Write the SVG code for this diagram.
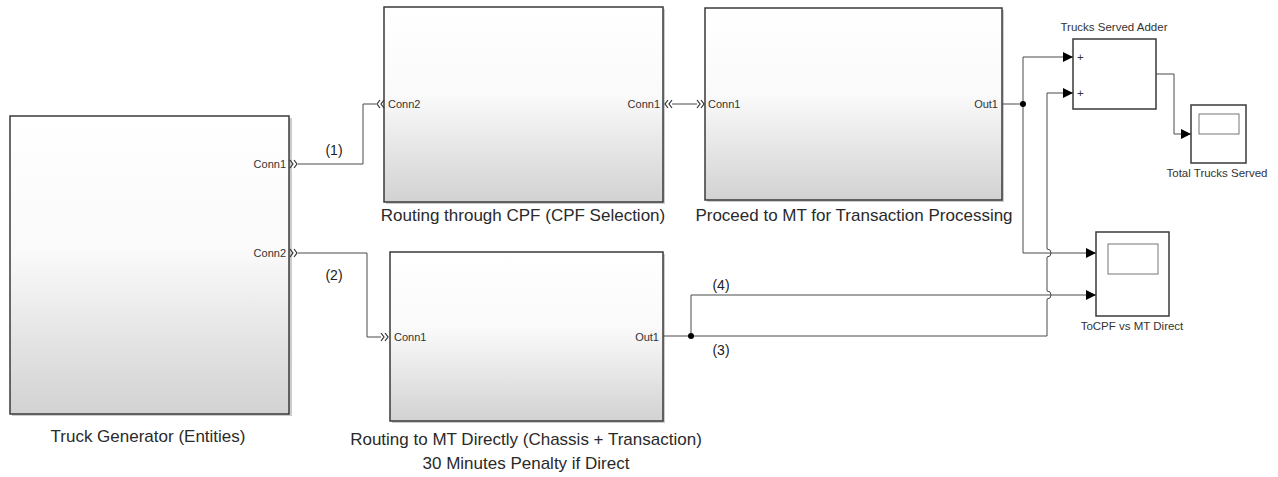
<svg xmlns="http://www.w3.org/2000/svg" width="1278" height="477" viewBox="0 0 1278 477">
<defs>
<linearGradient id="g" x1="0" y1="0" x2="0" y2="1">
<stop offset="0" stop-color="#ffffff"/>
<stop offset="0.45" stop-color="#fafafa"/>
<stop offset="1" stop-color="#d2d2d2"/>
</linearGradient>
<marker id="arr" markerWidth="10" markerHeight="10" refX="10" refY="5" orient="auto" markerUnits="userSpaceOnUse">
<path d="M0,0 L10,5 L0,10 Z" fill="#000"/>
</marker>
</defs>
<style>
.blk{fill:url(#g);stroke:#3a3a3a;stroke-width:1.5}
.sh{fill:#9a9a9a;opacity:0.5}
.wb{fill:#fff;stroke:#3a3a3a;stroke-width:1.5}
.in{fill:none;stroke:#777;stroke-width:1}
.ln{fill:none;stroke:#4a4a4a;stroke-width:1}
.ch{fill:none;stroke:#333;stroke-width:1.2}
.port{font-family:"Liberation Sans",Arial,sans-serif;font-size:11px;fill:#333}
.lbl{font-family:"Liberation Sans",Arial,sans-serif;font-size:17px;fill:#2a2a2a}
.sm{font-family:"Liberation Sans",Arial,sans-serif;font-size:11.5px;fill:#333}
.num{font-family:"Liberation Sans",Arial,sans-serif;font-size:14px;fill:#222}
</style>
<rect width="1278" height="477" fill="#fff"/>

<g id="truck-generator">
<rect class="sh" x="12" y="118" width="280" height="298"/>
<rect class="blk" x="10" y="116" width="279" height="298"/>
<text class="port" x="286" y="168" text-anchor="end">Conn1</text>
<text class="port" x="286" y="257" text-anchor="end">Conn2</text>
<path class="ch" d="M290,160 l3,4 l-3,4 M294,160 l3,4 l-3,4"/>
<path class="ch" d="M290,249 l3,4 l-3,4 M294,249 l3,4 l-3,4"/>
<text class="lbl" x="148" y="442" text-anchor="middle">Truck Generator (Entities)</text>
</g>

<g id="routing-cpf">
<rect class="sh" x="386" y="9" width="279" height="195"/>
<rect class="blk" x="384" y="7" width="279" height="195"/>
<text class="port" x="388" y="108">Conn2</text>
<text class="port" x="660" y="108" text-anchor="end">Conn1</text>
<path class="ch" d="M380,100 l-3,4 l3,4 M384,100 l-3,4 l3,4"/>
<path class="ch" d="M668,100 l-3,4 l3,4 M672,100 l-3,4 l3,4"/>
<text class="lbl" x="523" y="221" text-anchor="middle">Routing through CPF (CPF Selection)</text>
</g>

<g id="proceed-mt">
<rect class="sh" x="707" y="10" width="297" height="192"/>
<rect class="blk" x="705" y="8" width="297" height="192"/>
<text class="port" x="708" y="108">Conn1</text>
<text class="port" x="998" y="108" text-anchor="end">Out1</text>
<path class="ch" d="M697,100 l3,4 l-3,4 M701,100 l3,4 l-3,4"/>
<text class="lbl" x="854" y="221" text-anchor="middle">Proceed to MT for Transaction Processing</text>
</g>

<g id="routing-mt-direct">
<rect class="sh" x="392" y="254" width="273" height="169"/>
<rect class="blk" x="390" y="252" width="273" height="169"/>
<text class="port" x="394" y="341">Conn1</text>
<text class="port" x="659" y="341" text-anchor="end">Out1</text>
<path class="ch" d="M381,333 l3,4 l-3,4 M385,333 l3,4 l-3,4"/>
<text class="lbl" x="526" y="445" text-anchor="middle">Routing to MT Directly (Chassis + Transaction)</text>
<text class="lbl" x="526" y="469" text-anchor="middle">30 Minutes Penalty if Direct</text>
</g>

<g id="trucks-served-adder">
<rect class="wb" x="1073" y="39" width="83" height="70"/>
<text class="sm" x="1077" y="61">+</text>
<text class="sm" x="1077" y="97">+</text>
<text class="sm" x="1114" y="31" text-anchor="middle">Trucks Served Adder</text>
</g>

<g id="total-trucks-served">
<rect class="wb" x="1191" y="105" width="55" height="58"/>
<rect class="in" x="1199" y="114" width="40" height="20"/>
<text class="sm" x="1217" y="177" text-anchor="middle">Total Trucks Served</text>
</g>

<g id="tocpf-vs-mt-direct">
<rect class="wb" x="1096" y="232" width="73" height="84"/>
<rect class="in" x="1108" y="244" width="50" height="30"/>
<text class="sm" x="1132" y="330" text-anchor="middle">ToCPF vs MT Direct</text>
</g>

<g id="connectors">
<path class="ln" d="M298,164 H363 V104 H376"/>
<path class="ln" d="M298,253 H367 V337 H381"/>
<path class="ln" d="M672,104 H697"/>
<path class="ln" d="M1002,104 H1023"/>
<path class="ln" d="M1023,104 V57 H1073" marker-end="url(#arr)"/>
<path class="ln" d="M1023,104 V253 H1096" marker-end="url(#arr)"/>
<path class="ln" d="M663,336 H691"/>
<path class="ln" d="M691,336 V295 H1096" marker-end="url(#arr)"/>
<path class="ln" d="M691,336 H1047 V299 A4,4 0 0 0 1047,291 V257 A4,4 0 0 0 1047,249 V93 H1073" marker-end="url(#arr)"/>
<path class="ln" d="M1156,74 H1174 V134 H1191" marker-end="url(#arr)"/>
<circle cx="1023" cy="104" r="3" fill="#000"/>
<circle cx="691" cy="336" r="3" fill="#000"/>
<text class="num" x="334" y="155" text-anchor="middle">(1)</text>
<text class="num" x="334" y="280" text-anchor="middle">(2)</text>
<text class="num" x="721" y="290" text-anchor="middle">(4)</text>
<text class="num" x="721" y="355" text-anchor="middle">(3)</text>
</g>
</svg>
